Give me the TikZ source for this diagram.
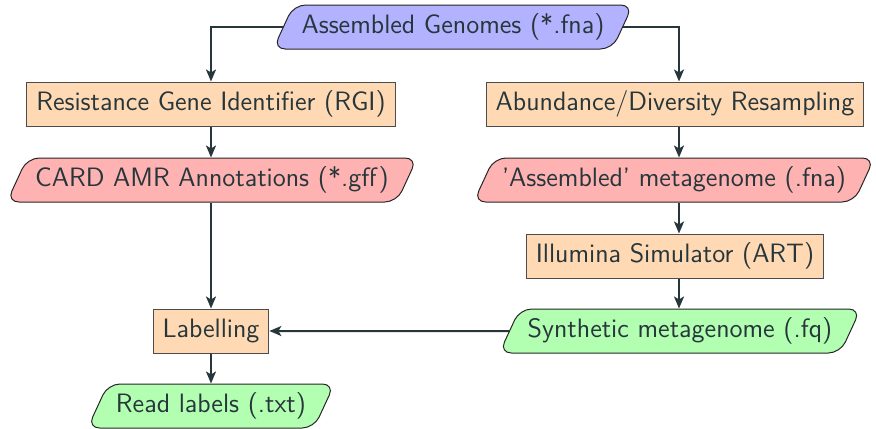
\documentclass[tikz,border=0pt]{standalone}
\usetikzlibrary{shapes.geometric,arrows.meta}
\definecolor{ink}{RGB}{38,54,58}
\definecolor{inblue}{RGB}{178,178,255}
\definecolor{procorange}{RGB}{255,217,179}
\definecolor{datared}{RGB}{255,178,178}
\definecolor{outgreen}{RGB}{178,255,178}
\begin{document}
\begin{tikzpicture}[x=0.5pt,y=-0.5pt,
  font=\sffamily\fontsize{13.3}{15.2}\selectfont,
  every node/.style={text=ink},
  procbox/.style={rectangle,draw=black!70,line width=0.5pt,fill=procorange,
    inner xsep=4.7pt,minimum height=22pt},
  databox/.style={trapezium,trapezium left angle=63,trapezium right angle=117,
    trapezium stretches body,rounded corners=6pt,draw=black!85,line width=0.5pt,
    inner xsep=4pt,minimum height=22pt},
  arr/.style={draw=ink,line width=1pt,-{Stealth[length=6pt,width=5pt,inset=1.5pt]}}]
\useasboundingbox (0,0) rectangle (876,428);

% columns the connectors run along
\coordinate (lcol) at (211,0);
\coordinate (rcol) at (679,0);

% inputs and data products
\node[databox,fill=inblue]    (top)   at (453,27)  {Assembled Genomes (*.fna)};
\node[databox,fill=datared]   (card)  at (212,180) {CARD AMR Annotations (*.gff)};
\node[databox,fill=datared]   (meta)  at (674,180) {'Assembled' metagenome (.fna)};
\node[databox,fill=outgreen]  (synth) at (680,331) {Synthetic metagenome (.fq)};
\node[databox,fill=outgreen]  (read)  at (211,406) {Read labels (.txt)};

% processing steps
\node[procbox] (rgi)   at (211,104) {Resistance Gene Identifier (RGI)};
\node[procbox] (abund) at (675,104) {Abundance/Diversity Resampling};
\node[procbox] (art)   at (675,256) {Illumina Simulator (ART)};
\node[procbox] (lab)   at (211,331) {Labelling};

% flow
\draw[arr] (top.west) -| (rgi.north -| lcol);
\draw[arr] (top.east) -| (abund.north -| rcol);
\draw[arr] (rgi.south -| lcol) -- (card.north -| lcol);
\draw[arr] (card.south -| lcol) -- (lab.north -| lcol);
\draw[arr] (lab.south -| lcol) -- (read.north -| lcol);
\draw[arr] (abund.south -| rcol) -- (meta.north -| rcol);
\draw[arr] (meta.south -| rcol) -- (art.north -| rcol);
\draw[arr] (art.south -| rcol) -- (synth.north -| rcol);
\draw[arr] (synth.west) -- (lab.east);
\end{tikzpicture}
\end{document}
